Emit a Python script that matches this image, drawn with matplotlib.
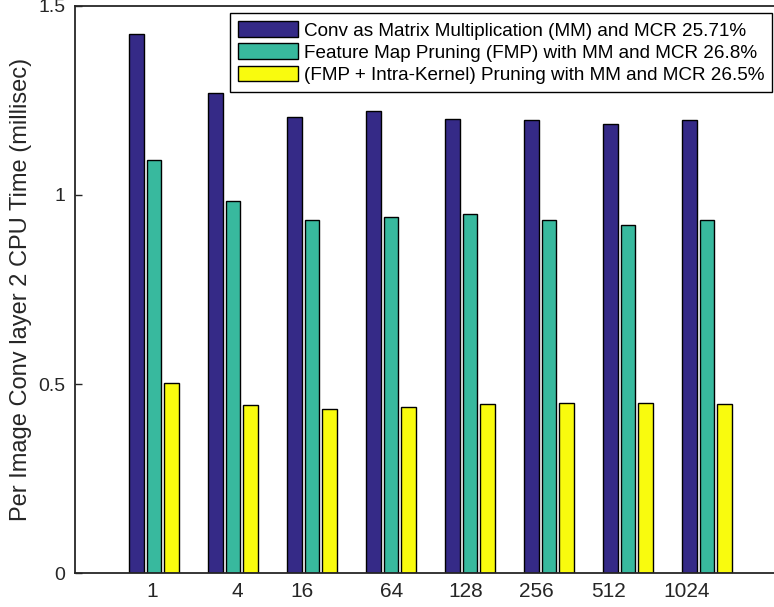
import numpy as np
import matplotlib.pyplot as plt

plt.rcParams['font.family'] = ['Liberation Sans', 'DejaVu Sans']

# Tempo por imagem (ms) para cada tamanho de lote
batch = ['1', '4', '16', '64', '128', '256', '512', '1024']
mm_time = [1.425, 1.269, 1.206, 1.221, 1.200, 1.199, 1.187, 1.198]
fmp_time = [1.091, 0.984, 0.934, 0.941, 0.949, 0.933, 0.920, 0.933]
fmp_ik_time = [0.504, 0.445, 0.435, 0.439, 0.447, 0.449, 0.449, 0.447]

labels = ['Conv as Matrix Multiplication (MM) and MCR 25.71%',
          'Feature Map Pruning (FMP) with MM and MCR 26.8%',
          '(FMP + Intra-Kernel) Pruning with MM and MCR 26.5%']
colors = ['#352a87', '#38b99e', '#f9fb0e']
txt = '#262626'

W, H = 774, 607
fig = plt.figure(figsize=(W / 100, H / 100), dpi=100)
# eixo vai um pouco alem da borda direita da figura
ax = fig.add_axes([75 / W, (H - 573.3) / H, (786 - 75) / W, (573.3 - 5.7) / H])

x = np.arange(1, len(batch) + 1)
w = 0.181
off = 0.222
for k, (vals, c, lab) in enumerate(zip([mm_time, fmp_time, fmp_ik_time], colors, labels)):
    ax.bar(x + (k - 1) * off, vals, width=w, color=c, edgecolor='black',
           linewidth=1.0, label=lab, zorder=2)

ax.set_xlim(0, 9)
ax.set_ylim(0, 1.5)
ax.set_yticks([0, 0.5, 1, 1.5])
ax.set_yticklabels(['0', '0.5', '1', '1.5'])
# rotulos do eixo x (posicoes como no grafico original)
ax.set_xticks([0.975, 2.05, 2.87, 4.01, 4.95, 5.84, 6.75, 7.74])
ax.set_xticklabels(batch)
ax.tick_params(axis='x', length=0, pad=6, labelsize=15, colors=txt)
ax.tick_params(axis='y', direction='in', length=5, width=1, pad=7,
               labelsize=14, colors=txt)

for s in ['top', 'left', 'bottom']:
    ax.spines[s].set_color(txt)
    ax.spines[s].set_linewidth(1.3)
ax.spines['right'].set_visible(False)

ax.set_ylabel('Per Image Conv layer 2 CPU Time (millisec)', fontsize=17,
              color=txt)
ax.yaxis.set_label_coords(-(75 - 32) / (786 - 75), 0.5)

leg = ax.legend(loc='upper right', bbox_to_anchor=(772 / W, 1 - 13.3 / H),
                bbox_transform=fig.transFigure, borderaxespad=0, fontsize=13.6,
                fancybox=False, framealpha=1, edgecolor='black',
                handlelength=3.17, handleheight=0.9, handletextpad=0.32,
                labelspacing=0.2, borderpad=0.42)
leg.get_frame().set_linewidth(1.0)
for t in leg.get_texts():
    t.set_color('black')

fig.savefig('out.png', dpi=100)
